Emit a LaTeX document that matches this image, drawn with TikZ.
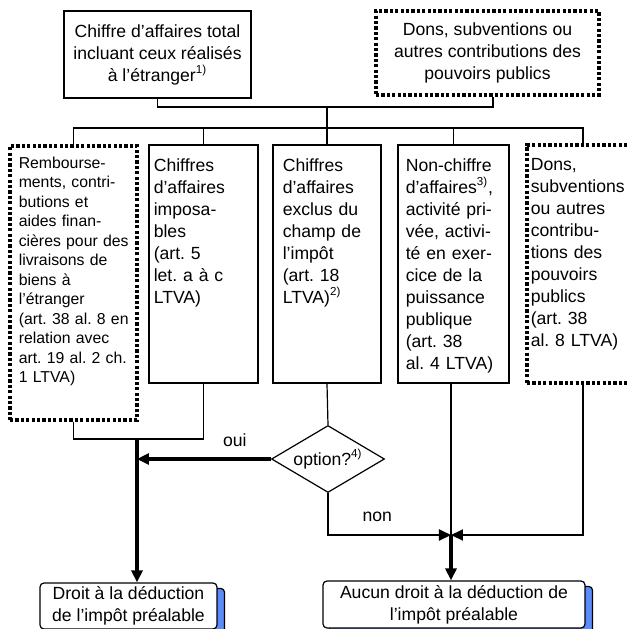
\documentclass[tikz,border=0pt]{standalone}
\usepackage{fontspec}
\setmainfont{Liberation Sans}
\usetikzlibrary{arrows.meta,shapes.geometric,backgrounds}
\definecolor{shadeblue}{RGB}{92,140,250}
\newcommand{\bodyfont}{\fontsize{8.8pt}{11pt}\selectfont}
\newcommand{\notefont}{\fontsize{7.9pt}{9.75pt}\selectfont}
\newcommand{\noteref}[1]{\textsuperscript{\fontsize{5.8pt}{6pt}\selectfont #1}}
\frenchspacing

\begin{document}
\begin{tikzpicture}[x=0.5pt, y=-0.5pt,
  box/.style={draw, line width=0.6pt, inner sep=0pt},
  dotbox/.style={draw, line width=1.6pt, dash pattern=on 1.6pt off 1.1pt, inner sep=0pt},
  coltext/.style={anchor=base west, inner sep=0pt, text width=64pt, align=left, font=\bodyfont},
  result/.style={draw, line width=0.6pt, rounded corners=2pt, fill=white, align=center, font=\bodyfont, inner sep=0pt},
  decision/.style={diamond, draw, line width=0.6pt, aspect=1.66, inner sep=0pt, minimum width=56.5pt, minimum height=33.5pt, font=\bodyfont},
  link/.style={line width=0.6pt},
  feed/.style={line width=1pt, -{Triangle[length=6pt,width=5.5pt]}},
  flow/.style={line width=1.6pt, -{Triangle[length=6pt,width=5.5pt]}}]
  \useasboundingbox (0,0) rectangle (629,629);

  % Top boxes
  \node[box, font=\bodyfont, align=center, minimum width=93.5pt, minimum height=43.5pt] (total) at (157.5,54.5)
    {Chiffre d’affaires total\\incluant ceux réalisés\\à l’étranger\noteref{1)}};
  \node[dotbox, font=\bodyfont, align=center, minimum width=111.5pt, minimum height=42pt] (dons) at (487.5,53)
    {Dons, subventions ou\\autres contributions des\\pouvoirs publics};

  % Columns
  \node[dotbox, minimum width=63.5pt, minimum height=137pt] (rembours) at (73.5,283) {};
  \node[box, minimum width=54.5pt, minimum height=119pt] (imposable) at (203.5,264) {};
  \node[box, minimum width=54pt, minimum height=119pt] (exclu) at (327,264) {};
  \node[box, minimum width=55.5pt, minimum height=119pt] (nonca) at (453.5,264) {};
  \node[dotbox, minimum width=56pt, minimum height=119pt] (subv) at (583,264) {};

  \node[coltext, font=\notefont, text width=60pt] (remboursTxt) at ([shift={(10,24)}]rembours.north west)
    {Rembourse-\\ments, contri-\\butions et\\aides finan-\\cières pour des\\livraisons de\\biens à\\l’étranger\\(art. 38 al. 8 en\\relation avec\\art. 19 al. 2 ch.\\1 LTVA)};
  \node[coltext] (imposableTxt) at ([shift={(5,27)}]imposable.north west)
    {Chiffres\\d’affaires\\imposa-\\bles\\(art. 5\\let. a à c\\LTVA)};
  \node[coltext] (excluTxt) at ([shift={(10,27)}]exclu.north west)
    {Chiffres\\d’affaires\\exclus du\\champ de\\l’impôt\\(art. 18\\LTVA)\noteref{2)}};
  \node[coltext] (noncaTxt) at ([shift={(8,27)}]nonca.north west)
    {Non-chiffre\\d’affaires\noteref{3)},\\activité pri-\\vée, activi-\\té en exer-\\cice de la\\puissance\\publique\\(art. 38\\al. 4 LTVA)};
  \node[coltext] (subvTxt) at ([shift={(5,27)}]subv.north west)
    {Dons,\\subventions\\ou autres\\contribu-\\tions des\\pouvoirs\\publics\\(art. 38\\al. 8 LTVA)};

  % Decision and results
  \node[decision] (opt) at (328,459) {option?\noteref{4)}};
  \node[result, minimum width=88.5pt, minimum height=23pt] (droit) at (128.5,606)
    {Droit à la déduction\\de l’impôt préalable};
  \node[result, minimum width=131pt, minimum height=23.5pt] (aucun) at (454,604.5)
    {Aucun droit à la déduction de\\l’impôt préalable};
  \begin{scope}[on background layer]
    \foreach \r in {droit,aucun}
      \draw[line width=0.6pt, rounded corners=2pt, fill=shadeblue]
        ([shift={(7,6)}]\r.north west) rectangle ([shift={(7,6)}]\r.south east);
  \end{scope}

  % Tree from the top
  \coordinate (join) at (493,107);
  \coordinate (split) at (327,107);
  \coordinate (bus) at (327,128);
  \draw[link] (total.south) |- (join) -- (join |- dons.south);
  \draw[link] (split) -- (bus);
  \draw[link] (rembours.north) |- (subv.north |- bus) -- (subv.north);
  \foreach \col in {imposable,exclu,nonca}
    \draw[link] (\col.north) -- (\col.north |- bus);

  % Left branch
  \coordinate (gauche) at (137,439);
  \draw[link] (rembours.south) |- (imposable.south |- gauche) -- (imposable.south);
  \draw[flow] (gauche) -- (gauche |- droit.north);
  \draw[link] (exclu.south) -- (opt.north);
  \draw[flow] (opt.west) -- (opt.west -| gauche) node[pos=0.27, above=2pt, font=\bodyfont] {oui};

  % Right branch
  \coordinate (droite) at (451,535);
  \draw[feed] (opt.south) |- (droite) node[pos=0.7, above=3pt, font=\bodyfont] {non};
  \draw[link] (nonca.south -| droite) -- (droite);
  \draw[feed] (subv.south) |- (droite);
  \draw[flow] (droite) -- (droite |- aucun.north);
\end{tikzpicture}
\end{document}
